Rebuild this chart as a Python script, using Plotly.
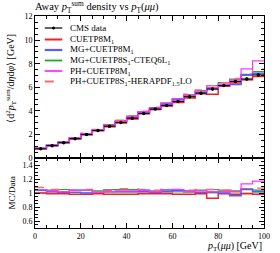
import plotly.graph_objects as go

edges = [0, 5, 10, 15, 20, 25, 30, 35, 40, 45, 50, 55, 60, 65, 70, 75, 80, 85, 90, 95, 100]
data = [0.78, 1.05, 1.30, 1.64, 2.00, 2.33, 2.70, 3.02, 3.38, 3.78,
        4.15, 4.45, 4.80, 5.20, 5.50, 5.85, 6.15, 6.50, 6.70, 7.05]
data_err = [0.05, 0.05, 0.05, 0.06, 0.06, 0.07, 0.07, 0.08, 0.08, 0.09,
            0.09, 0.10, 0.10, 0.11, 0.11, 0.12, 0.12, 0.13, 0.14, 0.15]
band_rel = [0.015, 0.015, 0.015, 0.015, 0.015, 0.015, 0.015, 0.015, 0.015, 0.015,
            0.015, 0.015, 0.015, 0.015, 0.015, 0.015, 0.015, 0.015, 0.015, 0.015]

r_cuet = [1.00, 0.99, 0.99, 0.98, 0.98, 0.99, 0.98, 0.98, 0.98, 0.99,
          0.99, 0.99, 0.98, 0.98, 0.99, 0.925, 0.99, 0.98, 0.99, 0.98]
r_mg = [1.04, 1.02, 1.01, 1.01, 1.00, 1.01, 1.02, 1.02, 1.02, 1.02,
        1.01, 1.02, 1.03, 1.02, 1.01, 1.01, 1.00, 0.96, 1.05, 1.02]
r_mgs = [1.05, 1.04, 1.05, 1.04, 1.04, 1.03, 1.05, 1.05, 1.05, 1.04,
         1.03, 1.04, 1.04, 1.03, 1.04, 1.05, 1.04, 1.03, 1.06, 1.04]
r_ph = [1.05, 1.03, 1.02, 1.04, 1.04, 1.01, 1.02, 1.03, 1.03, 1.04,
        1.02, 1.05, 1.05, 1.02, 1.03, 1.02, 1.02, 1.02, 1.13, 1.17]
r_her = [1.08, 1.05, 1.05, 1.04, 1.05, 1.04, 1.04, 1.06, 1.06, 1.05,
         1.04, 1.05, 1.05, 1.04, 1.05, 1.05, 1.04, 1.04, 1.06, 1.07]

series = [
    ("CUETP8M<sub>1</sub>", r_cuet, "#ee2222", "solid", 1.4),
    ("MG+CUETP8M<sub>1</sub>", r_mg, "#5a5aff", "solid", 1.6),
    ("MG+CUETP8S<sub>1</sub>-CTEQ6L<sub>1</sub>", r_mgs, "#22aa22", "solid", 1.2),
    ("PH+CUETP8M<sub>1</sub>", r_ph, "#ff33ff", "solid", 1.2),
    ("PH+CUETP8S<sub>1</sub>-HERAPDF<sub>1.5</sub>LO", r_her, "#ff6666", "dash", 1.4),
]
order = [2, 4, 0, 1, 3]

centers = [(edges[i] + edges[i + 1]) / 2 for i in range(len(data))]
halfw = [(edges[i + 1] - edges[i]) / 2 for i in range(len(data))]

fig = go.Figure()

def step(vals):
    return list(vals) + [vals[-1]]

# data band in ratio
lo = [1 - b for b in band_rel]
hi = [1 + b for b in band_rel]
fig.add_trace(go.Scatter(x=edges, y=step(lo), mode="lines", line=dict(width=0, shape="hv"),
                         xaxis="x2", yaxis="y2", showlegend=False, hoverinfo="skip"))
fig.add_trace(go.Scatter(x=edges, y=step(hi), mode="lines", line=dict(width=0, shape="hv"),
                         fill="tonexty", fillcolor="rgba(190,190,110,0.75)",
                         xaxis="x2", yaxis="y2", showlegend=False, hoverinfo="skip"))
# data band in main
dlo = [d - e for d, e in zip(data, data_err)]
dhi = [d + e for d, e in zip(data, data_err)]
fig.add_trace(go.Scatter(x=edges, y=step(dlo), mode="lines", line=dict(width=0, shape="hv"),
                         showlegend=False, hoverinfo="skip"))
fig.add_trace(go.Scatter(x=edges, y=step(dhi), mode="lines", line=dict(width=0, shape="hv"),
                         fill="tonexty", fillcolor="rgba(170,170,170,0.6)",
                         showlegend=False, hoverinfo="skip"))

for k in order:
    name, r, col, dash, w = series[k]
    mc = [d * x for d, x in zip(data, r)]
    fig.add_trace(go.Scatter(x=edges, y=step(mc), mode="lines", name=name,
                             line=dict(color=col, width=w, dash=dash, shape="hv"),
                             showlegend=False))
    fig.add_trace(go.Scatter(x=edges, y=step(r), mode="lines", name=name,
                             line=dict(color=col, width=w, dash=dash, shape="hv"),
                             xaxis="x2", yaxis="y2", showlegend=False))

fig.add_trace(go.Scatter(x=centers, y=data, mode="markers", name="CMS data",
                         marker=dict(color="black", size=3.5),
                         error_x=dict(type="data", array=halfw, color="black", width=0, thickness=1),
                         error_y=dict(type="data", array=data_err, color="black", width=0, thickness=1),
                         showlegend=False))

L, R, T, B = 35, 10, 16, 25
W, H = 280, 253
pw, ph = W - L - R, H - T - B
split = (228 - 158) / ph

font = "Liberation Serif"
axcommon = dict(showline=True, linecolor="black", linewidth=1, mirror="allticks",
                ticks="inside", ticklen=5, tickcolor="black", tickwidth=0.8,
                showgrid=False, zeroline=False,
                tickfont=dict(family=font, size=8, color="black"))

fig.update_layout(
    width=W, height=H, margin=dict(l=L, r=R, t=T, b=B),
    plot_bgcolor="white", paper_bgcolor="white", showlegend=False,
    xaxis=dict(domain=[0, 1], range=[0, 100], anchor="y", dtick=20, showticklabels=False,
               minor=dict(dtick=5, ticks="inside", ticklen=3, tickcolor="black"), **axcommon),
    yaxis=dict(domain=[split, 1], range=[0, 12.05], dtick=2, anchor="x",
               minor=dict(dtick=0.5, ticks="inside", ticklen=3, tickcolor="black"), **axcommon),
    xaxis2=dict(domain=[0, 1], range=[0, 100], anchor="y2", dtick=20,
                minor=dict(dtick=5, ticks="inside", ticklen=3, tickcolor="black"), **axcommon),
    yaxis2=dict(domain=[0, split], range=[0.5, 1.5], dtick=0.2, anchor="x2",
                tickvals=[0.6, 0.8, 1.0, 1.2, 1.4], ticktext=["0.6", "0.8", "1", "1.2", "1.4"],
                minor=dict(dtick=0.05, ticks="inside", ticklen=3, tickcolor="black"), **axcommon),
)

def px(x):
    return (x - L) / pw

def py(y):
    return (H - B - y) / ph

ann = []
ann.append(dict(text="Away <i>p</i><sub>T</sub><sup>sum</sup> density vs <i>p</i><sub>T</sub>(<i>μμ</i>)",
                x=px(33), y=py(16.5), xref="paper", yref="paper", xanchor="left", yanchor="bottom",
                showarrow=False, font=dict(family=font, size=10.5, color="black")))
ann.append(dict(text="⟨d<sup>2</sup><i>p</i><sub>T</sub><sup>sum</sup>/d<i>η</i>d<i>φ</i>⟩ [GeV]",
                x=px(10), y=py(78), xref="paper", yref="paper", xanchor="center", yanchor="middle",
                textangle=-90, showarrow=False, font=dict(family=font, size=10, color="black")))
ann.append(dict(text="MC/Data", x=px(11), y=py(193), xref="paper", yref="paper",
                xanchor="center", yanchor="middle", textangle=-90, showarrow=False,
                font=dict(family=font, size=9, color="black")))
ann.append(dict(text="<i>p</i><sub>T</sub>(<i>μμ</i>) [GeV]", x=1, y=py(246), xref="paper", yref="paper",
                xanchor="right", yanchor="middle", showarrow=False,
                font=dict(family=font, size=10, color="black")))

shapes = []
leg_y = [28, 39.5, 50, 60.5, 71, 81.5]
leg_items = [("CMS data", "black", "solid", 1.2)] + [(s[0], s[2], s[3], s[4] + 0.6) for s in series]
for (name, col, dash, w), yy in zip(leg_items, leg_y):
    shapes.append(dict(type="line", xref="paper", yref="paper", x0=px(45), x1=px(63),
                       y0=py(yy), y1=py(yy), line=dict(color=col, width=w, dash=dash)))
    ann.append(dict(text=name, x=px(69), y=py(yy), xref="paper", yref="paper",
                    xanchor="left", yanchor="middle", showarrow=False,
                    font=dict(family=font, size=9, color="black")))
shapes.append(dict(type="circle", xref="paper", yref="paper", x0=px(52.5), x1=px(55.5),
                   y0=py(29.5), y1=py(26.5), fillcolor="black", line=dict(color="black", width=0)))

fig.update_layout(annotations=ann, shapes=shapes)
fig.write_html("out.html", config={"displayModeBar": False},
               post_script="document.body.style.margin='0';document.body.style.padding='0';")
